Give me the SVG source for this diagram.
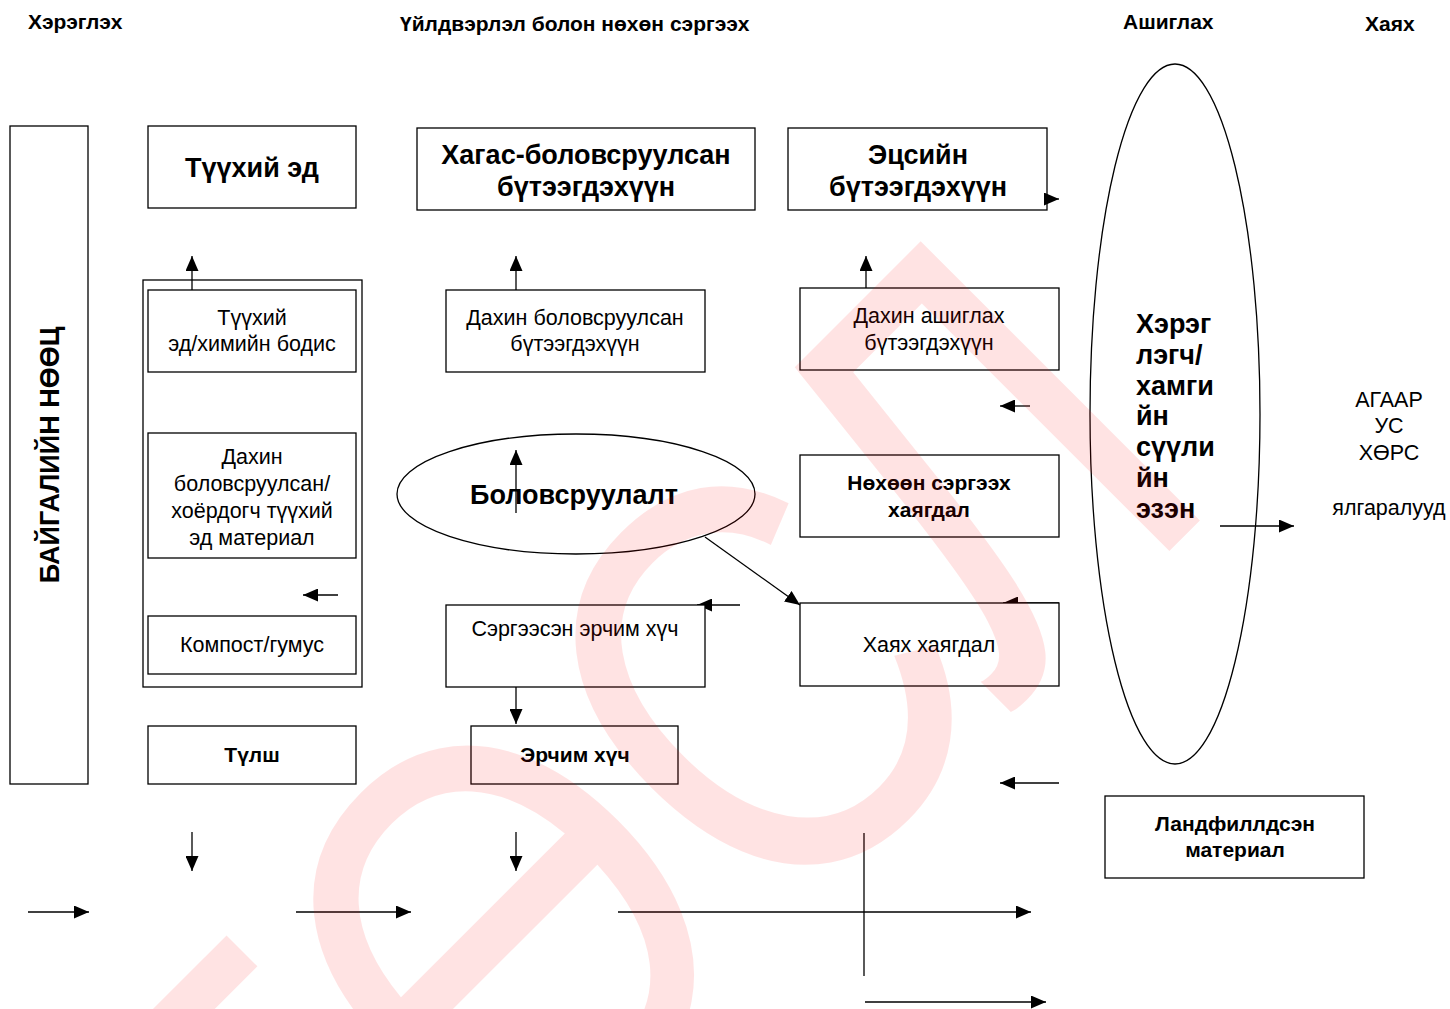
<svg xmlns="http://www.w3.org/2000/svg" width="1450" height="1009" viewBox="0 0 1450 1009">
<style>
text{font-family:"Liberation Sans",Arial,sans-serif;fill:#000}
.h{font-size:21px;font-weight:bold}
.t{font-size:21.5px}
.b{font-size:21px;font-weight:bold}
.bl{font-size:27px;font-weight:bold}
.box{fill:#fff;stroke:#000;stroke-width:1.3}
.ln{stroke:#000;stroke-width:1.3;fill:none}
.wm{font-family:"Liberation Sans",Arial,sans-serif;font-size:574px;fill:#ff0000;fill-opacity:0.11}
</style>
<defs>
<marker id="ah" markerWidth="15" markerHeight="13" refX="15" refY="6.5" orient="auto" markerUnits="userSpaceOnUse"><path d="M0,0 L15,6.5 L0,13 z" fill="#000"/></marker>
</defs>

<g id="headers">
<text class="h" x="28" y="29">Хэрэглэх</text>
<text class="h" x="400" y="31">Үйлдвэрлэл болон нөхөн сэргээх</text>
<text class="h" x="1123" y="29">Ашиглах</text>
<text class="h" x="1365" y="31">Хаяx</text>
</g>

<g id="connectors-under">
<line class="ln" x1="740" y1="605" x2="697" y2="605" marker-end="url(#ah)"/>
<line class="ln" x1="1059" y1="603" x2="1003" y2="603" marker-end="url(#ah)"/>
</g>

<g id="natural-resources">
<rect class="box" x="10" y="126" width="78" height="658"/>
<text class="bl" transform="translate(59,455) rotate(-90)" text-anchor="middle">БАЙГАЛИЙН НӨӨЦ</text>
</g>

<g id="raw-material">
<rect class="box" x="148" y="126" width="208" height="82"/>
<text class="bl" x="252" y="177" text-anchor="middle">Түүхий эд</text>
</g>

<g id="semi-finished">
<rect class="box" x="417" y="128" width="338" height="82"/>
<text class="bl" x="586" y="164" text-anchor="middle">Хагас-боловсруулсан</text>
<text class="bl" x="586" y="196" text-anchor="middle">бүтээгдэхүүн</text>
</g>

<g id="final-product">
<rect class="box" x="788" y="128" width="259" height="82"/>
<text class="bl" x="918" y="164" text-anchor="middle">Эцсийн</text>
<text class="bl" x="918" y="196" text-anchor="middle">бүтээгдэхүүн</text>
</g>

<g id="inputs-container">
<rect class="box" x="143" y="280" width="219" height="407"/>
</g>

<g id="raw-chem">
<rect class="box" x="148" y="290" width="208" height="82"/>
<text class="t" x="252" y="325" text-anchor="middle">Түүхий</text>
<text class="t" x="252" y="351" text-anchor="middle">эд/химийн бодис</text>
</g>

<g id="secondary-raw">
<rect class="box" x="148" y="433" width="208" height="125"/>
<text class="t" x="252" y="464" text-anchor="middle">Дахин</text>
<text class="t" x="252" y="491" text-anchor="middle">боловсруулсан/</text>
<text class="t" x="252" y="518" text-anchor="middle">хоёрдогч түүхий</text>
<text class="t" x="252" y="545" text-anchor="middle">эд материал</text>
</g>

<g id="compost">
<rect class="box" x="148" y="616" width="208" height="58"/>
<text class="t" x="252" y="652" text-anchor="middle">Компост/гумус</text>
</g>

<g id="fuel">
<rect class="box" x="148" y="726" width="208" height="58"/>
<text class="b" x="252" y="762" text-anchor="middle">Түлш</text>
</g>

<g id="recycled-product">
<rect class="box" x="446" y="290" width="259" height="82"/>
<text class="t" x="575" y="325" text-anchor="middle">Дахин боловсруулсан</text>
<text class="t" x="575" y="351" text-anchor="middle">бүтээгдэхүүн</text>
</g>

<g id="processing">
<ellipse class="box" cx="576" cy="494" rx="179" ry="60"/>
<text class="bl" x="574" y="504" text-anchor="middle">Боловсруулалт</text>
</g>

<g id="recovered-energy">
<rect class="box" x="446" y="605" width="259" height="82"/>
<text class="t" x="575" y="636" text-anchor="middle">Сэргээсэн эрчим хүч</text>
</g>

<g id="energy">
<rect class="box" x="471" y="726" width="207" height="58"/>
<text class="b" x="575" y="762" text-anchor="middle">Эрчим хүч</text>
</g>

<g id="reuse-product">
<rect class="box" x="800" y="288" width="259" height="82"/>
<text class="t" x="929" y="323" text-anchor="middle">Дахин ашиглах</text>
<text class="t" x="929" y="350" text-anchor="middle">бүтээгдэхүүн</text>
</g>

<g id="recoverable-waste">
<rect class="box" x="800" y="455" width="259" height="82"/>
<text class="b" x="929" y="490" text-anchor="middle">Нөхөөн сэргээх</text>
<text class="b" x="929" y="517" text-anchor="middle">хаягдал</text>
</g>

<g id="disposal-waste">
<rect class="box" x="800" y="603" width="259" height="83"/>
<text class="t" x="929" y="652" text-anchor="middle">Хаях хаягдал</text>
</g>

<g id="consumer">
<ellipse class="box" cx="1175" cy="414" rx="85" ry="350"/>
<text class="bl" x="1136" y="333">Хэрэг</text>
<text class="bl" x="1136" y="364">лэгч/</text>
<text class="bl" x="1136" y="395">хамги</text>
<text class="bl" x="1136" y="425">йн</text>
<text class="bl" x="1136" y="456">сүүли</text>
<text class="bl" x="1136" y="487">йн</text>
<text class="bl" x="1136" y="518">эзэн</text>
</g>

<g id="emissions">
<text class="t" x="1389" y="407" text-anchor="middle">АГААР</text>
<text class="t" x="1389" y="433" text-anchor="middle">УС</text>
<text class="t" x="1389" y="460" text-anchor="middle">ХӨРС</text>
<text class="t" x="1389" y="515" text-anchor="middle">ялгаралууд</text>
</g>

<g id="landfill">
<rect class="box" x="1105" y="796" width="259" height="82"/>
<text class="b" x="1235" y="831" text-anchor="middle">Ландфиллдсэн</text>
<text class="b" x="1235" y="857" text-anchor="middle">материал</text>
</g>

<g id="connectors">
<line class="ln" x1="1047" y1="199" x2="1059" y2="199" marker-end="url(#ah)"/>
<line class="ln" x1="192" y1="290" x2="192" y2="256" marker-end="url(#ah)"/>
<line class="ln" x1="516" y1="290" x2="516" y2="256" marker-end="url(#ah)"/>
<line class="ln" x1="866" y1="288" x2="866" y2="256" marker-end="url(#ah)"/>
<line class="ln" x1="338" y1="595" x2="303" y2="595" marker-end="url(#ah)"/>
<line class="ln" x1="516" y1="513" x2="516" y2="450" marker-end="url(#ah)"/>
<line class="ln" x1="705" y1="537" x2="800" y2="605" marker-end="url(#ah)"/>
<line class="ln" x1="516" y1="687" x2="516" y2="724" marker-end="url(#ah)"/>
<line class="ln" x1="1030" y1="406" x2="1000" y2="406" marker-end="url(#ah)"/>
<line class="ln" x1="1220" y1="526" x2="1294" y2="526" marker-end="url(#ah)"/>
<line class="ln" x1="1059" y1="783" x2="1000" y2="783" marker-end="url(#ah)"/>
<line class="ln" x1="192" y1="832" x2="192" y2="871" marker-end="url(#ah)"/>
<line class="ln" x1="516" y1="832" x2="516" y2="871" marker-end="url(#ah)"/>
<line class="ln" x1="28" y1="912" x2="89" y2="912" marker-end="url(#ah)"/>
<line class="ln" x1="296" y1="912" x2="411" y2="912" marker-end="url(#ah)"/>
<line class="ln" x1="618" y1="912" x2="1031" y2="912" marker-end="url(#ah)"/>
<line class="ln" x1="864" y1="833" x2="864" y2="976"/>
<line class="ln" x1="865" y1="1002" x2="1046" y2="1002" marker-end="url(#ah)"/>
</g>

<g id="watermark">
<text class="wm" transform="translate(627,812) rotate(-45)" text-anchor="middle" dominant-baseline="central" textLength="1300" lengthAdjust="spacingAndGlyphs">ТӨСЛ</text>
</g>
</svg>
